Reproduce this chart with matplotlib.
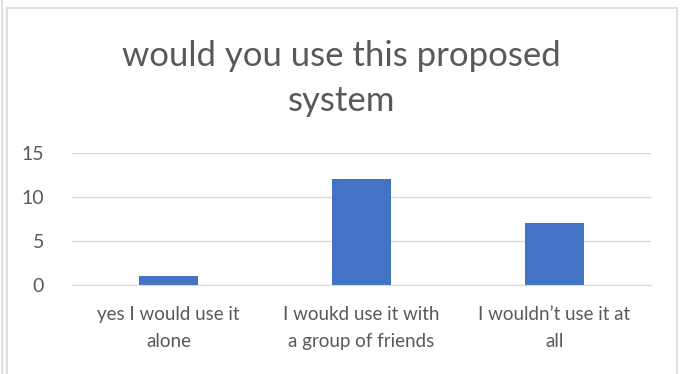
import numpy as np
import matplotlib.pyplot as plt
from matplotlib.patches import Rectangle
from matplotlib.lines import Line2D

categories = ["yes I would use it\nalone", "I woukd use it with\na group of friends", "I wouldn\u2019t use it at\nall"]
values = [1, 12, 7]
yticks = [0, 5, 10, 15]

plt.rcParams['font.family'] = ['Lato', 'DejaVu Sans']
text_color = '#595959'

fig = plt.figure(figsize=(6.83, 3.74), dpi=100)
W, H = 683, 374

# chart frame (excel style)
fig.patches.append(Rectangle((7 / W, -0.05), 670 / W, 1 - 8 / H + 0.05, transform=fig.transFigure,
                             fill=False, edgecolor='#D9D9D9', linewidth=1.2))
fig.lines.append(Line2D([1.5 / W, 1.5 / W], [0, 1], transform=fig.transFigure, color='#D9D9D9', linewidth=1.2))

ax = fig.add_axes([72 / W, 1 - 285 / H, (651 - 72) / W, (285 - 153) / H])
x = np.arange(len(categories))
ax.bar(x, values, width=0.31, color='#4472C4', zorder=3)
ax.set_xlim(-0.5, len(categories) - 0.5)
ax.set_ylim(0, 15)
ax.set_yticks(yticks)
ax.set_xticks(x)
ax.set_xticklabels(categories, fontsize=13.5, color=text_color, linespacing=1.75)
ax.tick_params(axis='y', labelsize=14, colors=text_color, length=0, pad=20)
ax.tick_params(axis='x', length=0, pad=15)
ax.grid(axis='y', color='#D9D9D9', linewidth=1, zorder=0)
for s in ['top', 'right', 'left']:
    ax.spines[s].set_visible(False)
ax.spines['bottom'].set_color('#D9D9D9')
ax.spines['bottom'].set_zorder(4)

fig.text(0.5, 1 - 56 / H, "would you use this proposed", ha='center', va='center', fontsize=25, color=text_color)
fig.text(0.5, 1 - 101 / H, "system", ha='center', va='center', fontsize=25, color=text_color)

fig.savefig('out.png', dpi=100)
